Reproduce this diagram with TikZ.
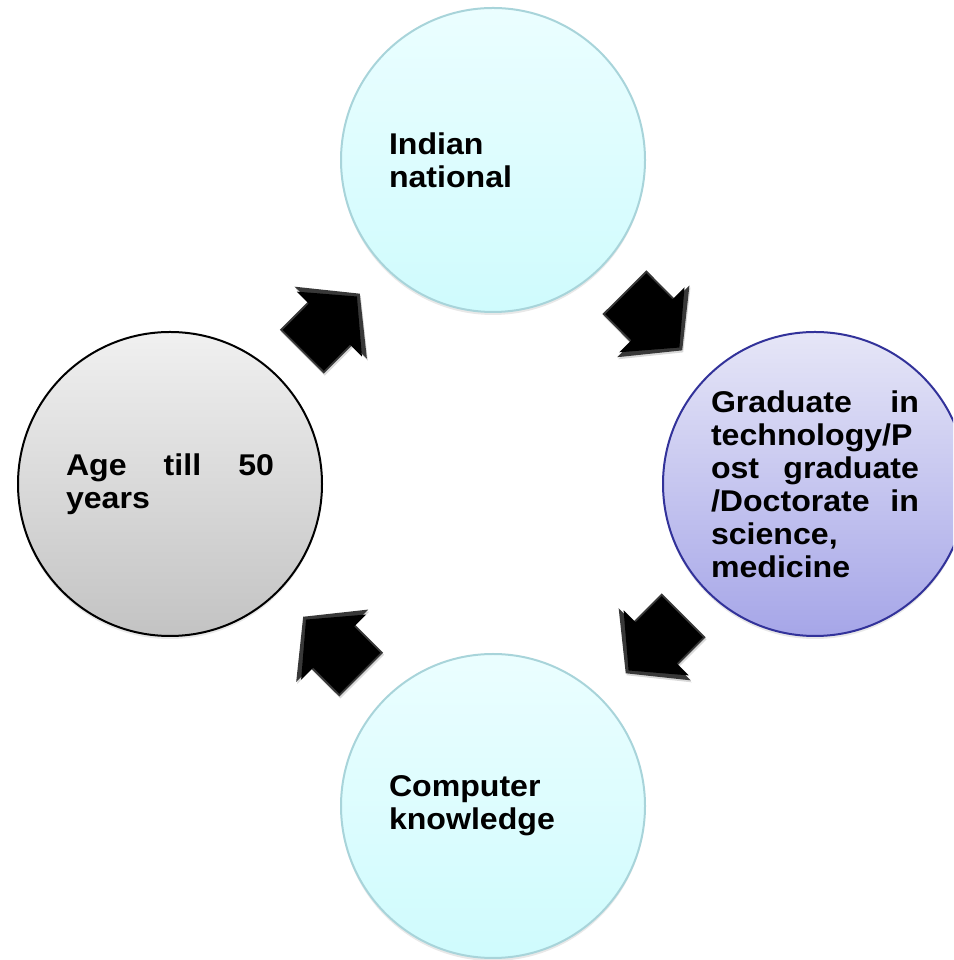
\documentclass[tikz,border=0pt]{standalone}
\usepackage{fontspec}
\setmainfont{Liberation Sans}[FakeStretch=1.07]
\usetikzlibrary{shadows,calc}
\definecolor{cyantop}{HTML}{EBFEFF}
\definecolor{cyanbot}{HTML}{CFFBFD}
\definecolor{cyanedge}{HTML}{A8D4DA}
\definecolor{violettop}{HTML}{E6E6F7}
\definecolor{violetbot}{HTML}{A6A6E8}
\definecolor{violetedge}{HTML}{32329A}
\definecolor{greytop}{HTML}{F0F0F0}
\definecolor{greybot}{HTML}{C3C3C3}
\newcommand{\fullline}[1]{\makebox[208pt]{#1}}

\begin{document}
\begin{tikzpicture}[x=1pt,y=1pt,
		stepcircle/.style={circle, minimum size=304pt, inner sep=0pt, text width=208pt, align=left, line width=2pt,
			drop shadow={opacity=0.18, shadow xshift=0pt, shadow yshift=-3pt}},
		cyancircle/.style={stepcircle, draw=cyanedge, top color=cyantop, bottom color=cyanbot},
		violetcircle/.style={stepcircle, draw=violetedge, top color=violettop, bottom color=violetbot},
		greycircle/.style={stepcircle, draw=black, top color=greytop, bottom color=greybot},
		cyclearrow/.pic={
			\fill [black!78, drop shadow={opacity=0.3, shadow xshift=1pt, shadow yshift=-2pt}]
				(-42,-31) -- (-1,-31) -- (-1,-51) -- (40,0) -- (-1,51) -- (-1,31) -- (-42,31) -- cycle;
			\fill [black] (-40,-29) -- (-3,-29) -- (-3,-46) -- (36,0) -- (-3,46) -- (-3,29) -- (-40,29) -- cycle;
		}]
	\tikzstyle{every node}=[font=\fontsize{30}{33}\selectfont\bfseries]
	\useasboundingbox (0,0) rectangle (953,960);
	\clip (0,0) rectangle (953,960);
	\node [cyancircle] (indian) at (493,800) {Indian\\national};
	\node [violetcircle] (graduate) at (815,476) {\fullline{Graduate\hfill in}\\technology/P\\\fullline{ost\hfill graduate}\\\fullline{/Doctorate\hfill in}\\science,\\medicine};
	\node [cyancircle] (computer) at (493,154) {Computer\\knowledge};
	\node [greycircle] (age) at (170,476) {\fullline{Age\hfill till\hfill 50}\\years};
	\path (age) -- pic [sloped, allow upside down] {cyclearrow} (indian);
	\path (indian) -- pic [sloped, allow upside down] {cyclearrow} (graduate);
	\path (graduate) -- pic [sloped, allow upside down] {cyclearrow} (computer);
	\path (computer) -- pic [sloped, allow upside down] {cyclearrow} (age);
\end{tikzpicture}
\end{document}
